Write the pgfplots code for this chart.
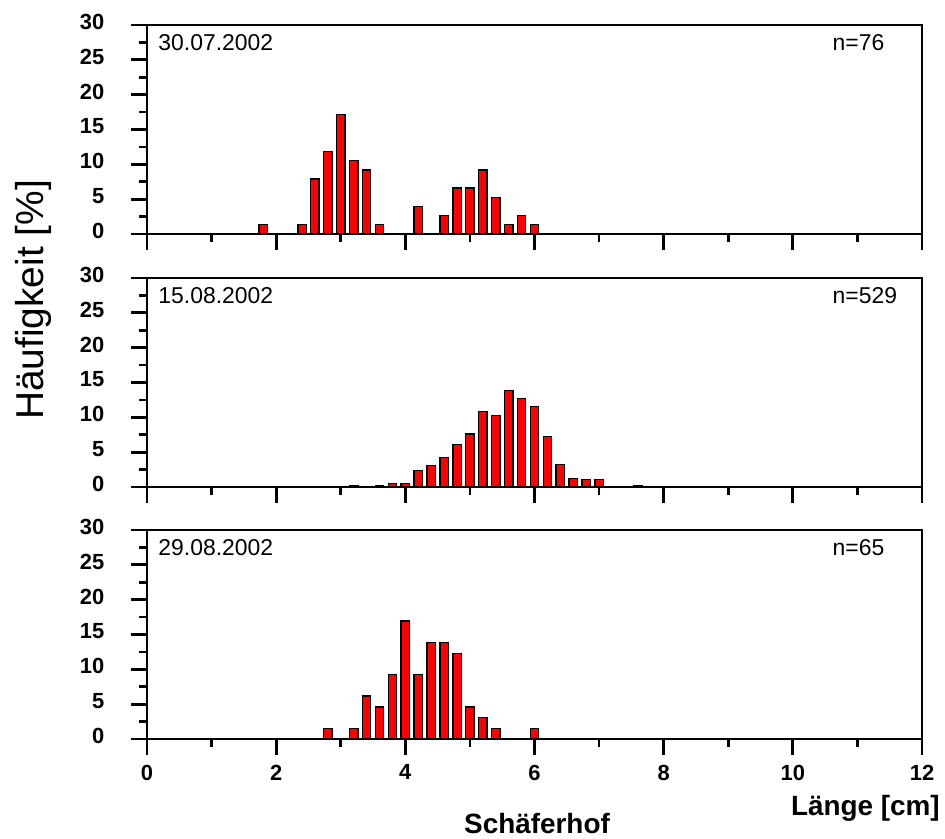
\documentclass[border=0pt]{standalone}
\usepackage{pgfplots}
\pgfplotsset{compat=1.18}
\usepackage{fontspec}
\setmainfont{Liberation Sans}
\pgfplotsset{
  panel/.style={
    scale only axis, width=775bp, height=209bp, anchor=south west,
    xmin=0, xmax=12, ymin=0, ymax=30,
    xtick={0,2,...,12}, minor xtick={1,3,...,11},
    ytick={0,5,...,30}, minor ytick={2.5,7.5,...,27.5},
    xtick pos=left, ytick pos=left, tick align=outside,
    major tick length=16bp, minor tick length=8bp,
    line width=2.8bp,
    axis line style={line width=2.8bp},
    tick style={black, line width=2.8bp},
    major tick style={black, line width=2.8bp},
    minor tick style={black, line width=2.8bp},
    /pgf/number format/assume math mode=true,
    ticklabel style={font=\bfseries\fontsize{22}{22}\selectfont},
    yticklabel style={xshift=-22bp, yshift=3bp},
    xticklabel style={yshift=-5bp},
    ybar, bar width=0.13,
  },
}
\tikzset{
  lbl/.style={font=\fontsize{23}{23}\selectfont, inner sep=0pt},
  barst/.style={fill=red, draw=black, line width=1.4bp},
}
\begin{document}
\begin{tikzpicture}
\useasboundingbox (0,0) rectangle (945bp,839bp);
% panel 1
\begin{axis}[panel, at={(147bp,605bp)}, xticklabels={}]
\addplot[barst] coordinates {(1.8,1.32) (2.4,1.32) (2.6,7.89) (2.8,11.84) (3.0,17.11) (3.2,10.53) (3.4,9.21) (3.6,1.32) (4.2,3.95) (4.6,2.63) (4.8,6.58) (5.0,6.58) (5.2,9.21) (5.4,5.26) (5.6,1.32) (5.8,2.63) (6.0,1.32)};
\node[lbl, anchor=base west] at (rel axis cs:0.013,0.88) {30.07.2002};
\node[lbl, anchor=base west] at (rel axis cs:0.883,0.88) {n=76};
\end{axis}
% panel 2
\begin{axis}[panel, at={(147bp,352bp)}, xticklabels={}]
\addplot[barst] coordinates {(3.2,0.19) (3.6,0.19) (3.8,0.5) (4.0,0.5) (4.2,2.40) (4.4,3.12) (4.6,4.22) (4.8,6.10) (5.0,7.58) (5.2,10.8) (5.4,10.27) (5.6,13.83) (5.8,12.72) (6.0,11.57) (6.2,7.25) (6.4,3.26) (6.6,1.25) (6.8,1.06) (7.0,1.06) (7.6,0.19)};
\node[lbl, anchor=base west] at (rel axis cs:0.013,0.88) {15.08.2002};
\node[lbl, anchor=base west] at (rel axis cs:0.883,0.88) {n=529};
\end{axis}
% panel 3
\begin{axis}[panel, at={(147bp,100bp)}]
\addplot[barst] coordinates {(2.8,1.54) (3.2,1.54) (3.4,6.15) (3.6,4.62) (3.8,9.23) (4.0,16.92) (4.2,9.23) (4.4,13.85) (4.6,13.85) (4.8,12.31) (5.0,4.62) (5.2,3.08) (5.4,1.54) (6.0,1.54)};
\node[lbl, anchor=base west] at (rel axis cs:0.013,0.88) {29.08.2002};
\node[lbl, anchor=base west] at (rel axis cs:0.883,0.88) {n=65};
\end{axis}
\node[rotate=90, anchor=base, inner sep=0pt, font=\fontsize{39}{39}\selectfont] at (43bp,539bp) {Häufigkeit [\%]};
\node[anchor=base east, inner sep=0pt, font=\bfseries\fontsize{28}{28}\selectfont] at (940bp,24bp) {Länge [cm]};
\node[anchor=base, inner sep=0pt, font=\bfseries\fontsize{28}{28}\selectfont] at (537bp,6bp) {Schäferhof};
\end{tikzpicture}
\end{document}
